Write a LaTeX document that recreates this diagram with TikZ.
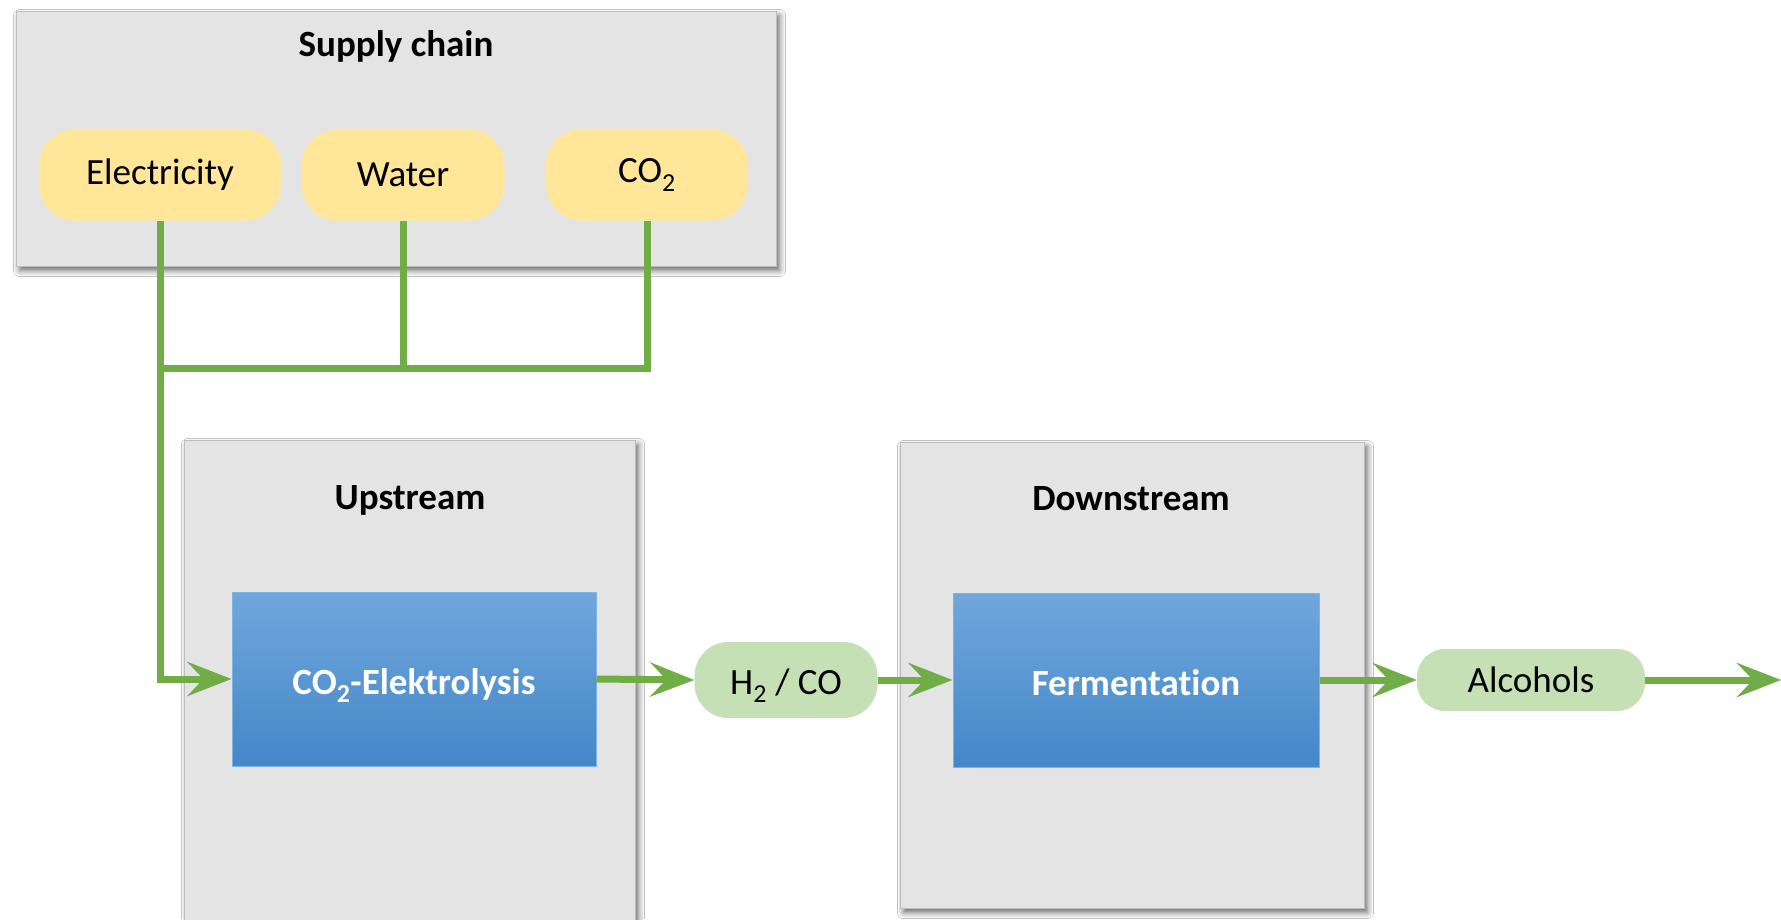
\documentclass[tikz,border=0pt]{standalone}
\usepackage{fontspec}
\setmainfont[Ligatures={NoCommon,NoContextual},Contextuals=NoAlternate]{Carlito}
\usetikzlibrary{arrows.meta,shadows.blur}
\definecolor{flow}{HTML}{70AD47}
\definecolor{panelfill}{HTML}{E4E4E4}
\definecolor{paneledge}{HTML}{BDBDBD}
\definecolor{supplyfill}{HTML}{FFE699}
\definecolor{productfill}{HTML}{C5E0B4}
\definecolor{proctop}{HTML}{70A7DC}
\definecolor{procbot}{HTML}{4487C8}
\definecolor{procedge}{HTML}{7FB2E0}
\tikzset{
  txt/.style={font=\fontsize{37}{44}\selectfont},
  panel/.style={draw=paneledge, line width=1pt, fill=panelfill, inner sep=0pt,
    anchor=north west,
    blur shadow={shadow xshift=3pt, shadow yshift=-4pt, shadow blur radius=6pt, shadow opacity=60}},
  paneltitle/.style={font=\fontsize{37}{44}\selectfont\bfseries, inner sep=0pt},
  supply/.style={txt, fill=supplyfill, rounded corners=36pt, inner sep=0pt, minimum height=91pt},
  product/.style={txt, fill=productfill, rounded corners=#1, inner sep=0pt},
  process/.style={font=\fontsize{37}{44}\selectfont\bfseries, text=white,
    top color=proctop, bottom color=procbot, draw=procedge, line width=1pt,
    inner sep=0pt, text height=33pt, text depth=2pt,
    minimum width=364pt, minimum height=174pt},
  pipe/.style={draw=flow, line width=7pt},
  feed/.style={pipe, -{Stealth[length=44pt, width=34pt, inset=16pt]}},
}
\begin{document}
\begin{tikzpicture}[x=1pt, y=-1pt]
  \clip (0,0) rectangle (1781,919);
  \fill[white] (0,0) rectangle (1781,919);

  % stage panels
  \node[panel, minimum width=760pt, minimum height=255pt] (supplybox) at (16,11) {};
  \node[panel, minimum width=451pt, minimum height=520pt] (upbox) at (184,440) {};
  \node[panel, minimum width=464pt, minimum height=466pt] (downbox) at (900,442) {};

  \node[paneltitle] (supplytitle) at (396,46) {Supply chain};
  \node[paneltitle] (uptitle) at (410,500) {Upstream};
  \node[paneltitle] (downtitle) at (1131,499) {Downstream};

  % feedstocks
  \node[supply, minimum width=242pt] (elec) at (160,175) {Electricity};
  \node[supply, minimum width=203pt] (water) at (403,175) {Water};
  \node[supply, minimum width=202pt] (co2) at (647,175) {CO\textsubscript{2}};

  % process steps
  \node[process] (elys) at (414,679) {CO\textsubscript{2}-Elektrolysis};
  \node[process, minimum width=366pt] (ferm) at (1136,680) {Fermentation};

  % intermediate and final products
  \node[product=34pt, minimum width=183pt, minimum height=76pt,
        text height=28pt, text depth=0pt] (syngas) at (786,680) {H\textsubscript{2} / CO};
  \node[product=28pt, minimum width=228pt, minimum height=62pt] (alc) at (1531,680) {Alcohols};

  % feed collector
  \coordinate (bus) at (160,368);
  \coordinate (out) at (1781,680);
  \draw[pipe] (water.south) -- (water.south |- bus);
  \draw[pipe] (co2.south) |- (bus);
  \draw[feed] (elec.south) |- (elys.west);

  % main flow
  \draw[feed] (elys.east) -- (syngas.west);
  \draw[feed] (syngas.east) -- (ferm.west);
  \draw[feed] (ferm.east) -- (alc.west);
  \draw[feed] (alc.east) -- (out);
\end{tikzpicture}
\end{document}
